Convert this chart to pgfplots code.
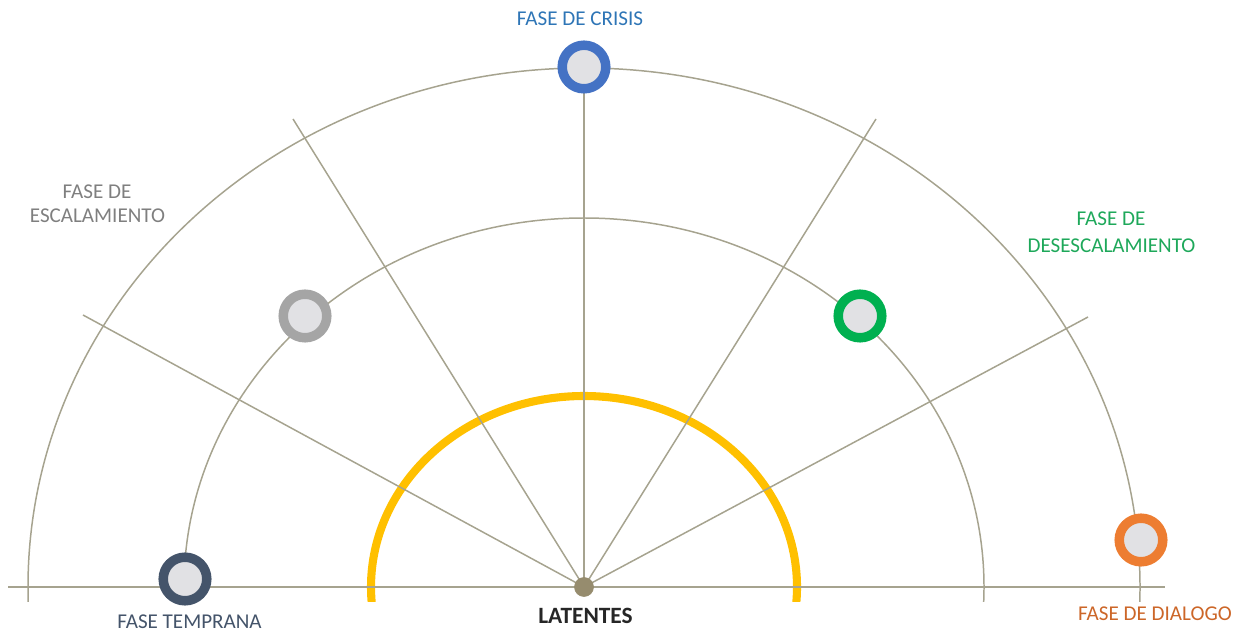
\documentclass[border=0pt]{standalone}
\usepackage{pgfplots}
\pgfplotsset{compat=1.18}
\usepackage{fontspec}
\setmainfont{Carlito}

\definecolor{linecol}{RGB}{166,163,143}
\definecolor{gold}{HTML}{FFC000}
\definecolor{ringblue}{HTML}{4472C4}
\definecolor{ringgray}{HTML}{A5A5A5}
\definecolor{ringgreen}{HTML}{00B050}
\definecolor{ringorange}{HTML}{ED7D31}
\definecolor{ringdark}{HTML}{44546A}
\definecolor{innerfill}{HTML}{E1E1E4}
\definecolor{dotcol}{RGB}{150,140,110}
\definecolor{txtblue}{HTML}{2E75B6}
\definecolor{txtgray}{HTML}{7F7F7F}
\definecolor{txtgreen}{HTML}{1EA85A}
\definecolor{txtorange}{RGB}{204,102,40}
\definecolor{txtdark}{HTML}{44546A}

\tikzset{lbl/.style={inner sep=0pt, font=\fontsize{12}{14}\selectfont}}

\begin{document}
\begin{tikzpicture}
\begin{axis}[
    x=0.02cm, y=0.02cm,
    xmin=0, xmax=1240,
    ymin=0, ymax=633,
    hide axis,
    clip=false,
]
% semicircles, cut just below the baseline
\begin{scope}
  \clip (axis cs:0,32) rectangle (axis cs:1240,633);
  \draw[gold, line width=4.6pt] (axis cs:584,46) ellipse [x radius=213, y radius=191];
  \draw[linecol, line width=0.85pt] (axis cs:584,46) ellipse [x radius=556, y radius=519];
  \draw[linecol, line width=0.85pt] (axis cs:584,46) ellipse [x radius=400, y radius=369];
\end{scope}

% rays from the centre
\addplot[linecol, line width=0.85pt] coordinates {(584,46) (83,318)};
\addplot[linecol, line width=0.85pt] coordinates {(584,46) (293,514)};
\addplot[linecol, line width=0.85pt] coordinates {(584,46) (584,565)};
\addplot[linecol, line width=0.85pt] coordinates {(584,46) (876,514)};
\addplot[linecol, line width=0.85pt] coordinates {(584,46) (1088,316)};
% baseline
\addplot[linecol, line width=0.85pt] coordinates {(8,46) (1165,46)};

% phase rings
\addplot[only marks, mark=*, mark size=12.4pt,
  mark options={draw=ringblue, fill=innerfill, line width=5.4pt}]
  coordinates {(584,566)};
\addplot[only marks, mark=*, mark size=12.4pt,
  mark options={draw=ringgray, fill=innerfill, line width=5.4pt}]
  coordinates {(305,317)};
\addplot[only marks, mark=*, mark size=12.4pt,
  mark options={draw=ringgreen, fill=innerfill, line width=5.4pt}]
  coordinates {(860,317)};
\addplot[only marks, mark=*, mark size=12.4pt,
  mark options={draw=ringdark, fill=innerfill, line width=5.4pt}]
  coordinates {(185,54)};
\addplot[only marks, mark=*, mark size=12.4pt,
  mark options={draw=ringorange, fill=innerfill, line width=5.4pt}]
  coordinates {(1141,93)};
% centre dot
\addplot[only marks, mark=*, mark size=5.4pt,
  mark options={draw=dotcol, fill=dotcol}]
  coordinates {(584,46)};

% labels
\node[lbl, txtblue] at (axis cs:580,614) {FASE DE CRISIS};
\node[lbl, txtgray] at (axis cs:97,441.5) {FASE DE};
\node[lbl, txtgray] at (axis cs:97.5,417) {ESCALAMIENTO};
\node[lbl, txtgreen] at (axis cs:1111,414) {FASE DE};
\node[lbl, txtgreen] at (axis cs:1111.5,387) {DESESCALAMIENTO};
\node[lbl, txtorange] at (axis cs:1155,19.5) {FASE DE DIALOGO};
\node[lbl, txtdark] at (axis cs:189.5,11) {FASE TEMPRANA};
\node[inner sep=0pt, black!85, font=\fontsize{13.3}{16}\selectfont\bfseries] at (axis cs:585.5,17) {LATENTES};
\end{axis}
\end{tikzpicture}
\end{document}
